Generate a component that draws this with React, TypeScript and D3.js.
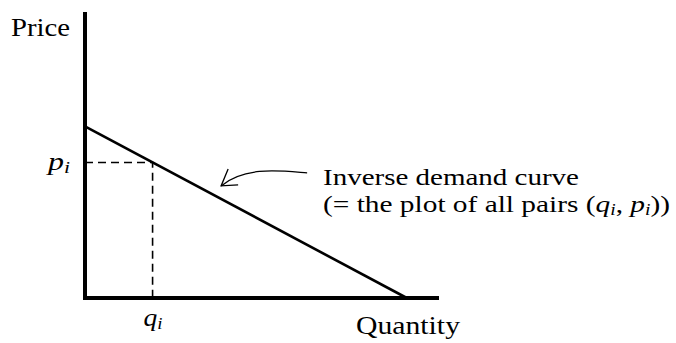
import React from 'react';
import * as d3 from 'd3';

// demand line endpoints (quantity, price)
const demandQ = [0, 10];
const demandP = [6, 0];
// chosen point on the curve
const pointQ = 2.1;
const axisMax = { q: 11, p: 10 };
const annotationLines = ['Inverse demand curve', '(= the plot of all pairs ('];

const width = 676;
const height = 343;
const font = '"Liberation Serif", "Times New Roman", serif';

export default function App() {
  const x = d3.scaleLinear().domain([0, axisMax.q]).range([85, 439]);
  const y = d3.scaleLinear().domain([0, axisMax.p]).range([298, 12]);

  const demandData = demandQ.map((q, i) => [q, demandP[i]] as [number, number]);
  const line = d3.line<[number, number]>().x(d => x(d[0])).y(d => y(d[1]));

  const slope = (demandP[1] - demandP[0]) / (demandQ[1] - demandQ[0]);
  const pointP = demandP[0] + slope * pointQ;

  // arrow tip in data space, a bit above the line
  const tipX = x(4.23);
  const tipY = y(3.92);
  const arrowPath = d3.path();
  arrowPath.moveTo(tipX + 86, tipY - 13);
  arrowPath.bezierCurveTo(tipX + 60, tipY - 15, tipX + 24, tipY - 20, tipX, tipY);

  const stretch = 'spacingAndGlyphs';

  return (
    <svg width={width} height={height} style={{ position: 'absolute', left: 0, top: 0, background: '#fff' }}>
      {/* dashed guides */}
      <path
        d={`M${x(0)},${y(pointP)}H${x(pointQ)}V${y(0)}`}
        fill="none"
        stroke="#000"
        strokeWidth={1.6}
        strokeDasharray="8,5"
      />
      {/* axes */}
      <line x1={x(0)} x2={x(0)} y1={y(axisMax.p)} y2={y(0) + 2} stroke="#000" strokeWidth={4} />
      <line x1={x(0) - 2} x2={x(axisMax.q)} y1={y(0)} y2={y(0)} stroke="#000" strokeWidth={4} />
      {/* demand curve */}
      <path d={line(demandData) ?? ''} fill="none" stroke="#000" strokeWidth={2.6} />
      {/* annotation arrow */}
      <path d={arrowPath.toString()} fill="none" stroke="#000" strokeWidth={1.3} />
      <path
        d={`M${tipX + 7},${tipY - 17}L${tipX},${tipY}L${tipX + 17},${tipY - 1}`}
        fill="none"
        stroke="#000"
        strokeWidth={1.3}
      />

      <g fontFamily={font} fill="#000">
        <text x={11} y={36} fontSize={26} textLength={59} lengthAdjust={stretch}>Price</text>
        <text x={356} y={334} fontSize={26} textLength={104} lengthAdjust={stretch}>Quantity</text>
        <text x={48} y={y(pointP) + 8} fontSize={25} fontStyle="italic" textLength={22} lengthAdjust={stretch}>
          <tspan>p</tspan>
          <tspan fontSize={17} dy={3}>i</tspan>
        </text>
        <text x={x(pointQ) - 9} y={326} fontSize={25} fontStyle="italic" textLength={19} lengthAdjust={stretch}>
          <tspan>q</tspan>
          <tspan fontSize={17} dy={3}>i</tspan>
        </text>
        <text x={323} y={185} fontSize={24} textLength={256} lengthAdjust={stretch}>
          {annotationLines[0]}
        </text>
        <text x={323} y={212} fontSize={24} textLength={347} lengthAdjust={stretch}>
          {annotationLines[1]}
          <tspan fontStyle="italic">q</tspan>
          <tspan fontSize={16} dy={3} fontStyle="italic">i</tspan>
          <tspan dy={-3}>, </tspan>
          <tspan fontStyle="italic">p</tspan>
          <tspan fontSize={16} dy={3} fontStyle="italic">i</tspan>
          <tspan dy={-3}>))</tspan>
        </text>
      </g>
    </svg>
  );
}
